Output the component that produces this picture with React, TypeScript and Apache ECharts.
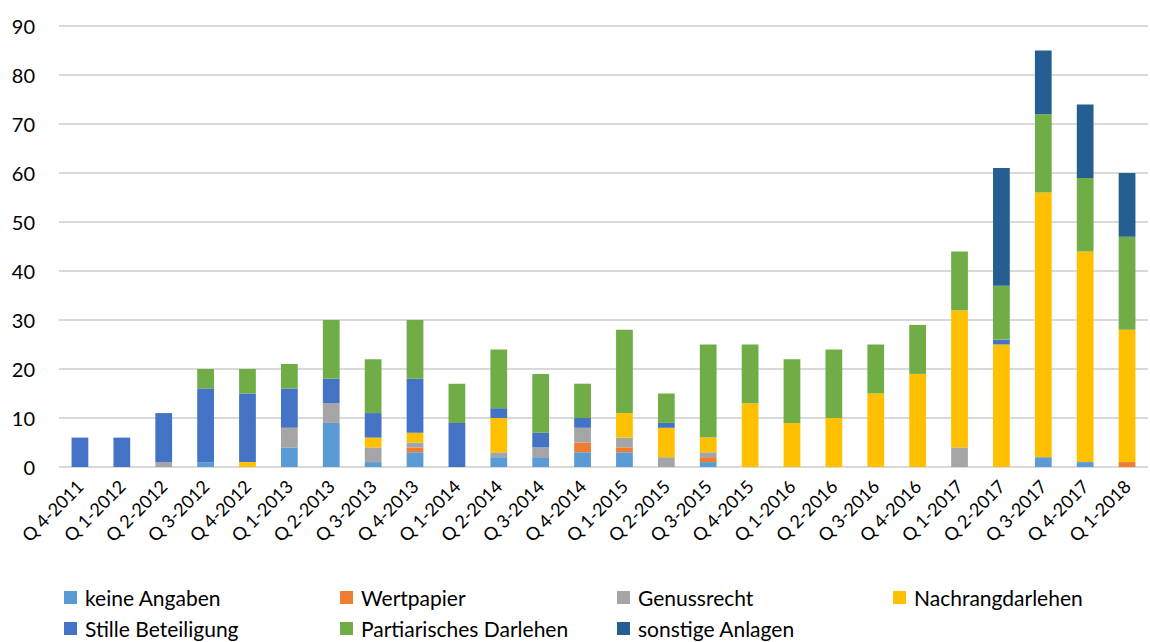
import React, { useEffect, useRef } from "react";
import * as echarts from "echarts";

const categories = [
  "Q 4-2011", "Q 1-2012", "Q 2-2012", "Q 3-2012", "Q 4-2012", "Q 1-2013", "Q 2-2013",
  "Q 3-2013", "Q 4-2013", "Q 1-2014", "Q 2-2014", "Q 3-2014", "Q 4-2014", "Q 1-2015",
  "Q 2-2015", "Q 3-2015", "Q 4-2015", "Q 1-2016", "Q 2-2016", "Q 3-2016", "Q 4-2016",
  "Q 1-2017", "Q 2-2017", "Q 3-2017", "Q 4-2017", "Q 1-2018",
];

const keineAngaben = [0, 0, 0, 1, 0, 4, 9, 1, 3, 0, 2, 2, 3, 3, 0, 1, 0, 0, 0, 0, 0, 0, 0, 2, 1, 0];
const wertpapier = [0, 0, 0, 0, 0, 0, 0, 0, 1, 0, 0, 0, 2, 1, 0, 1, 0, 0, 0, 0, 0, 0, 0, 0, 0, 1];
const genussrecht = [0, 0, 1, 0, 0, 4, 4, 3, 1, 0, 1, 2, 3, 2, 2, 1, 0, 0, 0, 0, 0, 4, 0, 0, 0, 0];
const nachrangdarlehen = [0, 0, 0, 0, 1, 0, 0, 2, 2, 0, 7, 0, 0, 5, 6, 3, 13, 9, 10, 15, 19, 28, 25, 54, 43, 27];
const stilleBeteiligung = [6, 6, 10, 15, 14, 8, 5, 5, 11, 9, 2, 3, 2, 0, 1, 0, 0, 0, 0, 0, 0, 0, 1, 0, 0, 0];
const partiarischesDarlehen = [0, 0, 0, 4, 5, 5, 12, 11, 12, 8, 12, 12, 7, 17, 6, 19, 12, 13, 14, 10, 10, 12, 11, 16, 15, 19];
const sonstigeAnlagen = [0, 0, 0, 0, 0, 0, 0, 0, 0, 0, 0, 0, 0, 0, 0, 0, 0, 0, 0, 0, 0, 0, 24, 13, 15, 13];

const seriesNames = [
  "keine Angaben", "Wertpapier", "Genussrecht", "Nachrangdarlehen",
  "Stille Beteiligung", "Partiarisches Darlehen", "sonstige Anlagen",
];
const seriesData = [
  keineAngaben, wertpapier, genussrecht, nachrangdarlehen,
  stilleBeteiligung, partiarischesDarlehen, sonstigeAnlagen,
];
const colors = ["#5B9BD5", "#ED7D31", "#A5A5A5", "#FFC000", "#4472C4", "#70AD47", "#255E91"];

const FONT = "Lato, 'Open Sans', sans-serif";

export default function App() {
  const ref = useRef<HTMLDivElement>(null);
  useEffect(() => {
    document.body.style.margin = "0";
    if (!ref.current) return;
    const chart = echarts.init(ref.current, null, { renderer: "svg" });
    const legendPos = [
      [64, 587], [340, 587], [617, 587], [893, 587],
      [64, 618], [340, 618], [617, 618],
    ];
    chart.setOption({
      animation: false,
      textStyle: { fontFamily: FONT },
      grid: { left: 59, right: 2, top: 26, bottom: 175, containLabel: false },
      legend: seriesNames.map((n, i) => ({
        data: [n],
        left: legendPos[i][0],
        top: legendPos[i][1],
        padding: 0,
        itemWidth: 13,
        itemHeight: 13,
        icon: "rect",
        textStyle: { fontFamily: FONT, fontSize: 21, color: "#000", padding: [0, 0, 0, 3] },
      })),
      xAxis: {
        type: "category",
        data: categories,
        axisLine: { show: false },
        axisTick: { show: false },
        axisLabel: {
          rotate: 45,
          interval: 0,
          fontFamily: FONT,
          fontSize: 18,
          color: "#000",
          margin: 16,
        },
      },
      yAxis: {
        type: "value",
        min: 0,
        max: 90,
        interval: 10,
        axisLine: { show: false },
        axisTick: { show: false },
        splitLine: { lineStyle: { color: "#D9D9D9", width: 2 } },
        axisLabel: { fontFamily: FONT, fontSize: 20, color: "#000", margin: 24 },
      },
      series: seriesNames.map((n, i) => ({
        name: n,
        type: "bar",
        stack: "total",
        data: seriesData[i],
        barWidth: "40%",
        itemStyle: { color: colors[i] },
      })),
    });
    return () => chart.dispose();
  }, []);
  return <div ref={ref} style={{ width: 1150, height: 642 }} />;
}
